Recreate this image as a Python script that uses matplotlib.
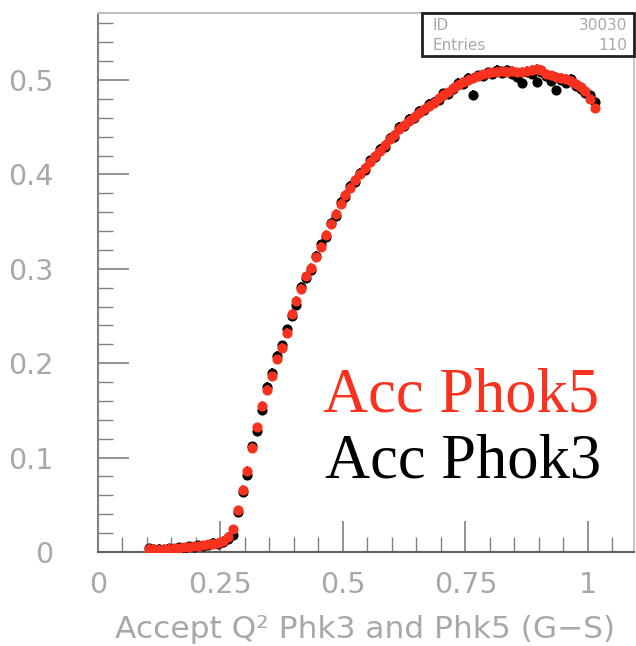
import matplotlib.pyplot as plt
from matplotlib.patches import Rectangle
from matplotlib.ticker import MultipleLocator, FuncFormatter

# bin centres (width 0.01) and acceptance for both selections
x = [0.105, 0.115, 0.125, 0.135, 0.145, 0.155, 0.165, 0.175, 0.185, 0.195,
     0.205, 0.215, 0.225, 0.235, 0.245, 0.255, 0.265, 0.275, 0.285, 0.295,
     0.305, 0.315, 0.325, 0.335, 0.345, 0.355, 0.365, 0.375, 0.385, 0.395,
     0.405, 0.415, 0.425, 0.435, 0.445, 0.455, 0.465, 0.475, 0.485, 0.495,
     0.505, 0.515, 0.525, 0.535, 0.545, 0.555, 0.565, 0.575, 0.585, 0.595,
     0.605, 0.615, 0.625, 0.635, 0.645, 0.655, 0.665, 0.675, 0.685, 0.695,
     0.705, 0.715, 0.725, 0.735, 0.745, 0.755, 0.765, 0.775, 0.785, 0.795,
     0.805, 0.815, 0.825, 0.835, 0.845, 0.855, 0.865, 0.875, 0.885, 0.895,
     0.905, 0.915, 0.925, 0.935, 0.945, 0.955, 0.965, 0.975, 0.985, 0.995,
     1.005, 1.015]

acc_phok5 = [0.003, 0.003, 0.002, 0.003, 0.003, 0.004, 0.004, 0.005, 0.005, 0.006,
             0.006, 0.007, 0.008, 0.009, 0.010, 0.012, 0.016, 0.024, 0.044, 0.066,
             0.086, 0.110, 0.132, 0.155, 0.172, 0.186, 0.204, 0.216, 0.232, 0.252,
             0.266, 0.279, 0.292, 0.301, 0.312, 0.323, 0.336, 0.348, 0.358, 0.369,
             0.378, 0.386, 0.394, 0.400, 0.407, 0.413, 0.420, 0.425, 0.431, 0.437,
             0.442, 0.448, 0.452, 0.457, 0.461, 0.465, 0.469, 0.473, 0.476, 0.481,
             0.484, 0.487, 0.492, 0.495, 0.498, 0.500, 0.502, 0.504, 0.506, 0.507,
             0.508, 0.509, 0.510, 0.509, 0.510, 0.508, 0.509, 0.510, 0.511, 0.512,
             0.511, 0.506, 0.505, 0.503, 0.502, 0.501, 0.499, 0.496, 0.493, 0.488,
             0.480, 0.470]

acc_phok3 = [0.004, 0.002, 0.003, 0.002, 0.004, 0.003, 0.005, 0.004, 0.006, 0.005,
             0.007, 0.006, 0.007, 0.010, 0.009, 0.011, 0.014, 0.018, 0.042, 0.064,
             0.082, 0.112, 0.128, 0.150, 0.175, 0.190, 0.208, 0.219, 0.236, 0.250,
             0.262, 0.281, 0.290, 0.299, 0.314, 0.326, 0.334, 0.349, 0.356, 0.371,
             0.376, 0.388, 0.392, 0.402, 0.405, 0.415, 0.418, 0.427, 0.429, 0.439,
             0.440, 0.450, 0.451, 0.459, 0.460, 0.467, 0.468, 0.475, 0.477, 0.479,
             0.486, 0.485, 0.490, 0.497, 0.496, 0.502, 0.484, 0.505, 0.504, 0.508,
             0.506, 0.511, 0.507, 0.511, 0.506, 0.503, 0.497, 0.508, 0.506, 0.498,
             0.509, 0.504, 0.499, 0.489, 0.500, 0.497, 0.501, 0.494, 0.490, 0.486,
             0.484, 0.477]

err = 0.005
hist_id = "30030"
entries = "110"

X_MAX = 1.094
Y_MAX = 0.571
RED = '#f8321f'
GREY = '#a8a8a8'

fig = plt.figure(figsize=(6.36, 6.46), dpi=100)
ax = fig.add_axes([98 / 636, 94 / 646, 536 / 636, 539 / 646])

# empty bins sit on the baseline
ax.hlines(0, 0, x[0] - 0.005, color=RED, lw=1.2, zorder=2)
ax.hlines(0, x[-1] + 0.005, X_MAX, color=RED, lw=1.2, zorder=2)

ax.errorbar(x, acc_phok3, yerr=err, fmt='o', color='black', ms=6.3,
            elinewidth=1.4, capsize=0, zorder=3)
ax.errorbar(x, acc_phok5, yerr=err, fmt='o', color=RED, ms=6.3,
            elinewidth=1.4, capsize=0, zorder=4)

ax.set_xlim(0, X_MAX)
ax.set_ylim(0, Y_MAX)

ax.xaxis.set_major_locator(MultipleLocator(0.25))
ax.xaxis.set_minor_locator(MultipleLocator(0.05))
ax.yaxis.set_major_locator(MultipleLocator(0.1))
ax.yaxis.set_minor_locator(MultipleLocator(0.02))
ax.xaxis.set_major_formatter(FuncFormatter(lambda v, p: f'{v:g}'))
ax.yaxis.set_major_formatter(FuncFormatter(lambda v, p: f'{v:g}'))

ax.tick_params(which='both', direction='in', colors='#808080', top=False, right=False)
ax.tick_params(which='major', length=22, width=1.2, labelsize=20.5, labelcolor=GREY)
ax.tick_params(which='minor', length=11, width=1.0)
ax.tick_params(axis='y', which='major', pad=32)
ax.tick_params(axis='x', which='major', pad=14)

ax.spines['left'].set_color('#808080')
ax.spines['bottom'].set_color('#606060')
ax.spines['top'].set_color('#c0c0c0')
ax.spines['right'].set_color('#c8c8c8')
for s in ax.spines.values():
    s.set_linewidth(1.5)

ax.set_xlabel('Accept Q² Phk3 and Phk5 (G−S)', fontsize=22.5, color=GREY, va='center')
ax.xaxis.set_label_coords(0.498, -0.143)

# statistics box
box = Rectangle((422 / 636, (646 - 56) / 646), 212 / 636, 43 / 646,
                transform=fig.transFigure, fill=False, ec='#202020', lw=2, zorder=5)
fig.add_artist(box)
fig.text(432 / 636, (646 - 25) / 646, 'ID', fontsize=11, color=GREY, va='center')
fig.text(627 / 636, (646 - 25) / 646, hist_id, fontsize=11, color=GREY, va='center', ha='right')
fig.text(432 / 636, (646 - 45) / 646, 'Entries', fontsize=11, color=GREY, va='center')
fig.text(627 / 636, (646 - 45) / 646, entries, fontsize=11, color=GREY, va='center', ha='right')

fig.text(323 / 636, (646 - 412) / 646, 'Acc Phok5', fontsize=45, color=RED,
         family='Liberation Serif', va='baseline')
fig.text(325 / 636, (646 - 477) / 646, 'Acc Phok3', fontsize=45, color='black',
         family='Liberation Serif', va='baseline')

fig.savefig('out.png', dpi=100)
